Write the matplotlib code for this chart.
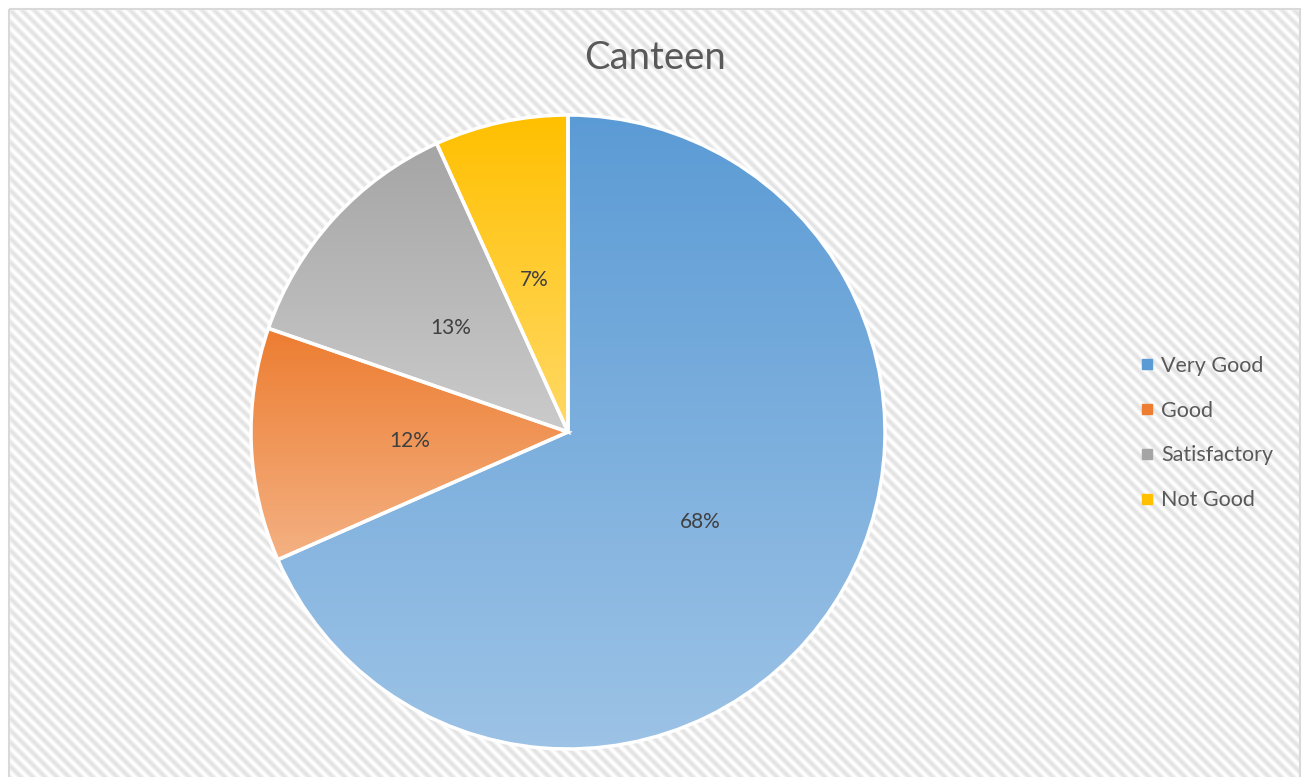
import numpy as np
import matplotlib
matplotlib.use("Agg")
import matplotlib.pyplot as plt
from matplotlib.colors import LinearSegmentedColormap
from matplotlib.lines import Line2D
from matplotlib.patches import Rectangle

plt.rcParams['font.family'] = ['Lato', 'DejaVu Sans']

# ---- data ----
title = "Canteen"
categories = ["Very Good", "Good", "Satisfactory", "Not Good"]
values = [68.4, 11.9, 12.9, 6.8]
top_colors = ["#5B9BD5", "#ED7D31", "#A5A5A5", "#FFC000"]
bottom_colors = ["#9DC3E6", "#F4B183", "#CBCBCB", "#FFD966"]

W, H = 1302, 777
fig = plt.figure(figsize=(W / 100, H / 100), dpi=100)

# ---- background (striped chart area) ----
bg = fig.add_axes([0, 0, 1, 1])
bg.axis("off")
jj, ii = np.meshgrid(np.arange(W), np.arange(H))
P = 12.0
v = 0.5 + 0.5 * np.cos(2 * np.pi * (jj - ii) / P)
shade = 1.0 - 0.11 * v
img = np.dstack([shade, shade, shade])
bg.imshow(img, extent=(0, W, H, 0), interpolation="bilinear", zorder=0)
bg.add_patch(Rectangle((0, 0), W, 8.5, color="white", zorder=1))
bg.add_patch(Rectangle((0, 0), 8.5, H, color="white", zorder=1))
bg.add_patch(Rectangle((1300, 0), 10, H, color="white", zorder=1))
bg.add_patch(Rectangle((8.5, 8.5), 1291, H + 20, fill=False, edgecolor="#D9D9D9",
                       linewidth=1.5, zorder=2))
bg.set_xlim(0, W)
bg.set_ylim(H, 0)

# ---- pie ----
cx, cy, r = 568, 432, 317
ax = fig.add_axes([(cx - r) / W, (H - cy - r) / H, 2 * r / W, 2 * r / H])
ax.axis("off")

wedges, texts, autotexts = ax.pie(
    values, startangle=90, counterclock=False, radius=1.0,
    autopct="%1.0f%%", pctdistance=0.5, colors=top_colors,
    wedgeprops=dict(edgecolor="white", linewidth=2.5),
    textprops=dict(fontsize=15, color="#404040"))

for w, c0, c1 in zip(wedges, top_colors, bottom_colors):
    path = w.get_path()
    verts = path.vertices
    x0, x1 = verts[:, 0].min(), verts[:, 0].max()
    y0, y1 = verts[:, 1].min(), verts[:, 1].max()
    cmap = LinearSegmentedColormap.from_list("g", [c1, c0])
    grad = np.linspace(0, 1, 256).reshape(-1, 1)
    im = ax.imshow(grad, cmap=cmap, extent=(x0, x1, y0, y1), origin="lower",
                   aspect="auto", zorder=1, interpolation="bilinear")
    im.set_clip_path(w)
    w.set_facecolor("none")
    w.set_zorder(2)
for t in autotexts:
    t.set_zorder(3)
    x, y = t.get_position()
    t.set_position((x, y - 3.0 / r))
ax.set_xlim(-1, 1)
ax.set_ylim(-1, 1)

# ---- title ----
fig.text(655 / W, 1 - 58 / H, title, ha="center", va="center",
         fontsize=27.5, color="#595959")

# ---- legend ----
handles = [Line2D([0], [0], marker="s", linestyle="none", markersize=7,
                  markerfacecolor=c, markeredgecolor=c) for c in top_colors]
leg = fig.legend(handles, categories, loc="upper left",
                 bbox_to_anchor=(1130 / W, 1 - 345 / H), frameon=False,
                 fontsize=15.5, labelcolor="#595959", handlelength=0.6,
                 handletextpad=0.35, labelspacing=1.15, borderpad=0)

fig.savefig("out.png", dpi=100)
